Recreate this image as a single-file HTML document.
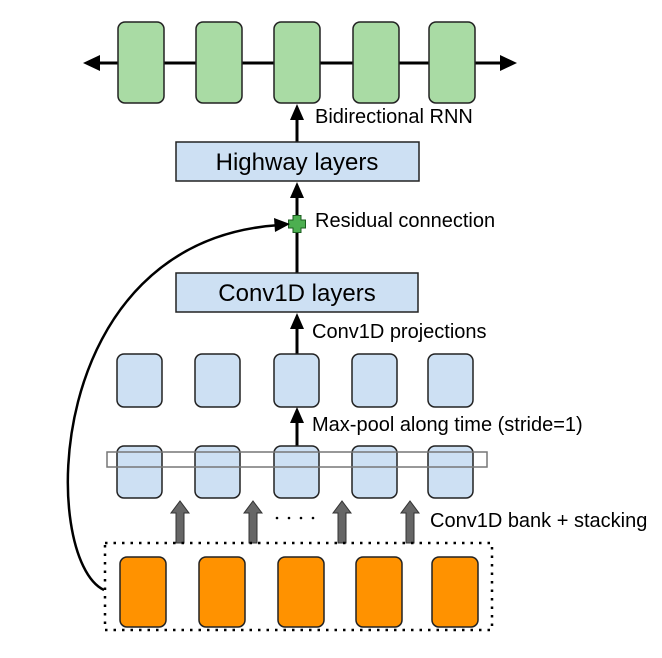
<!DOCTYPE html>
<html><head><style>body{margin:0;background:#fff}svg{display:block}text{font-family:"Liberation Sans",sans-serif;fill:#000}</style></head><body>
<svg width="662" height="658" viewBox="0 0 662 658" xmlns="http://www.w3.org/2000/svg">
<line x1="96" y1="63" x2="504" y2="63" stroke="#000" stroke-width="3"/>
<path d="M83,63 L100,55 L100,71 z" fill="#000"/>
<path d="M517,63 L500,55 L500,71 z" fill="#000"/>
<g fill="#a9dba4" stroke="#222" stroke-width="1.5">
<rect x="118" y="22" width="46" height="81" rx="7"/>
<rect x="196" y="22" width="46" height="81" rx="7"/>
<rect x="274" y="22" width="46" height="81" rx="7"/>
<rect x="353" y="22" width="46" height="81" rx="7"/>
<rect x="429" y="22" width="46" height="81" rx="7"/>
</g>
<text x="315" y="123" font-size="20">Bidirectional RNN</text>
<line x1="297" y1="142" x2="297" y2="118" stroke="#000" stroke-width="3"/>
<path d="M297,104 L290,120 L304,120 z" fill="#000"/>
<rect x="176" y="142" width="243" height="39" fill="#cde0f3" stroke="#222" stroke-width="1.5"/>
<text x="297" y="170" font-size="24" text-anchor="middle">Highway layers</text>
<line x1="297" y1="273" x2="297" y2="196" stroke="#000" stroke-width="3"/>
<path d="M297,182 L290,198 L304,198 z" fill="#000"/>
<path d="M293,215.5 h8 v4.5 h4.5 v8 h-4.5 v4.5 h-8 v-4.5 h-4.5 v-8 h4.5 z" fill="#4caf50" stroke="#1c5e20" stroke-width="1"/>
<text x="315" y="227" font-size="20">Residual connection</text>
<path d="M104,590 C 40,560 40,240 280,225" fill="none" stroke="#000" stroke-width="2.5"/>
<path d="M290,224 L274,218 L275,232 z" fill="#000"/>
<rect x="176" y="273" width="242" height="39" fill="#cde0f3" stroke="#222" stroke-width="1.5"/>
<text x="297" y="301" font-size="24" text-anchor="middle">Conv1D layers</text>
<line x1="297" y1="354" x2="297" y2="327" stroke="#000" stroke-width="3"/>
<path d="M297,313 L290,329 L304,329 z" fill="#000"/>
<text x="312" y="338" font-size="20">Conv1D projections</text>
<g fill="#cde0f3" stroke="#222" stroke-width="1.5">
<rect x="117" y="354" width="45" height="53" rx="7"/>
<rect x="195" y="354" width="45" height="53" rx="7"/>
<rect x="274" y="354" width="45" height="53" rx="7"/>
<rect x="352" y="354" width="45" height="53" rx="7"/>
<rect x="428" y="354" width="45" height="53" rx="7"/>
</g>
<line x1="297" y1="447" x2="297" y2="421" stroke="#000" stroke-width="3"/>
<path d="M297,407 L290,423 L304,423 z" fill="#000"/>
<text x="312" y="431" font-size="20">Max-pool along time (stride=1)</text>
<g fill="#cde0f3" stroke="#222" stroke-width="1.5">
<rect x="117" y="446" width="45" height="52" rx="7"/>
<rect x="195" y="446" width="45" height="52" rx="7"/>
<rect x="274" y="446" width="45" height="52" rx="7"/>
<rect x="352" y="446" width="45" height="52" rx="7"/>
<rect x="428" y="446" width="45" height="52" rx="7"/>
</g>
<rect x="107" y="452" width="380" height="15" fill="none" stroke="#777" stroke-width="1.5"/>
<g fill="#666" stroke="#333" stroke-width="1">
<path d="M176,543 v-30 h-5 l9,-12 l9,12 h-5 v30 z"/>
<path d="M249,543 v-30 h-5 l9,-12 l9,12 h-5 v30 z"/>
<path d="M338,543 v-30 h-5 l9,-12 l9,12 h-5 v30 z"/>
<path d="M406,543 v-30 h-5 l9,-12 l9,12 h-5 v30 z"/>
</g>
<g fill="#000"><circle cx="277" cy="518" r="1.3"/><circle cx="289" cy="518" r="1.3"/><circle cx="301" cy="518" r="1.3"/><circle cx="313" cy="518" r="1.3"/></g>
<text x="430" y="527" font-size="20">Conv1D bank + stacking</text>
<rect x="105" y="543" width="387" height="87" fill="none" stroke="#000" stroke-width="2.5" stroke-dasharray="2.5,6"/>
<g fill="#ff9200" stroke="#222" stroke-width="1.5">
<rect x="120" y="557" width="46" height="70" rx="7"/>
<rect x="199" y="557" width="46" height="70" rx="7"/>
<rect x="278" y="557" width="46" height="70" rx="7"/>
<rect x="356" y="557" width="46" height="70" rx="7"/>
<rect x="432" y="557" width="46" height="70" rx="7"/>
</g>
</svg>
</body></html>
